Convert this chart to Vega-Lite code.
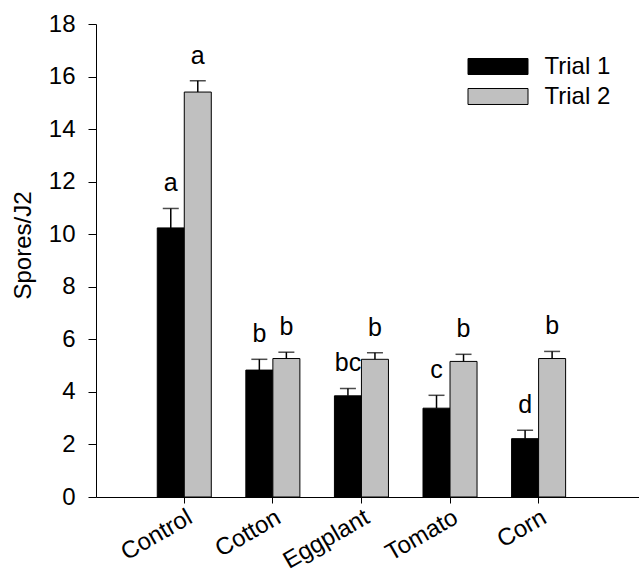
{
  "$schema": "https://vega.github.io/schema/vega-lite/v6.json",
  "width": 543,
  "height": 473,
  "autosize": {"type": "none"},
  "padding": {"left": 96, "top": 24, "right": 0, "bottom": 76},
  "background": "white",
  "data": {
    "values": [
      {"category": "Control", "trial": "Trial 1", "mean": 10.24, "upper": 10.98, "letter": "a"},
      {"category": "Control", "trial": "Trial 2", "mean": 15.41, "upper": 15.84, "letter": "a"},
      {"category": "Cotton", "trial": "Trial 1", "mean": 4.83, "upper": 5.24, "letter": "b"},
      {"category": "Cotton", "trial": "Trial 2", "mean": 5.27, "upper": 5.51, "letter": "b"},
      {"category": "Eggplant", "trial": "Trial 1", "mean": 3.85, "upper": 4.13, "letter": "bc"},
      {"category": "Eggplant", "trial": "Trial 2", "mean": 5.24, "upper": 5.49, "letter": "b"},
      {"category": "Tomato", "trial": "Trial 1", "mean": 3.38, "upper": 3.87, "letter": "c"},
      {"category": "Tomato", "trial": "Trial 2", "mean": 5.16, "upper": 5.43, "letter": "b"},
      {"category": "Corn", "trial": "Trial 1", "mean": 2.22, "upper": 2.54, "letter": "d"},
      {"category": "Corn", "trial": "Trial 2", "mean": 5.27, "upper": 5.54, "letter": "b"}
    ]
  },
  "encoding": {
    "x": {
      "field": "category",
      "type": "nominal",
      "sort": ["Control", "Cotton", "Eggplant", "Tomato", "Corn"],
      "scale": {"paddingInner": 0.39, "paddingOuter": 0.76, "align": 0.455},
      "axis": {
        "title": null,
        "labelAngle": -30,
        "labelFontSize": 24,
        "labelPadding": 2,
        "tickSize": 6,
        "domainColor": "black",
        "tickColor": "black",
        "labelColor": "black"
      }
    },
    "xOffset": {
      "field": "trial",
      "type": "nominal",
      "scale": {"paddingInner": 0, "paddingOuter": 0}
    }
  },
  "layer": [
    {
      "mark": {"type": "bar", "stroke": "black", "strokeWidth": 1},
      "encoding": {
        "y": {
          "field": "mean",
          "type": "quantitative",
          "scale": {"domain": [0, 18], "nice": false},
          "axis": {
            "title": "Spores/J2",
            "titleFontSize": 24,
            "titleFontWeight": "normal",
            "titleColor": "black",
            "titleX": -73,
            "titleY": 221,
            "titleBaseline": "middle",
            "values": [0, 2, 4, 6, 8, 10, 12, 14, 16, 18],
            "grid": false,
            "labelFontSize": 24,
            "labelPadding": 13,
            "tickSize": 8,
            "domainColor": "black",
            "tickColor": "black",
            "labelColor": "black"
          }
        },
        "color": {
          "field": "trial",
          "type": "nominal",
          "scale": {"range": ["black", "#c0c0c0"]},
          "legend": {
            "title": null,
            "orient": "none",
            "legendX": 372,
            "legendY": 27,
            "padding": 0,
            "symbolType": "M-2,-0.533H2V0.533H-2Z",
            "symbolSize": 900,
            "symbolOffset": 14.5,
            "symbolStrokeColor": "black",
            "symbolStrokeWidth": 1,
            "symbolOpacity": 1,
            "labelFontSize": 24,
            "labelColor": "black",
            "labelOffset": 31,
            "rowPadding": 2
          }
        }
      }
    },
    {
      "mark": {"type": "rule", "color": "black", "strokeWidth": 1.5},
      "encoding": {
        "y": {"field": "mean", "type": "quantitative"},
        "y2": {"field": "upper"}
      }
    },
    {
      "mark": {"type": "tick", "color": "black", "size": 16, "thickness": 1.5, "orient": "horizontal"},
      "encoding": {
        "y": {"field": "upper", "type": "quantitative"}
      }
    },
    {
      "mark": {"type": "text", "fontSize": 25, "color": "black", "baseline": "alphabetic", "dy": -17},
      "encoding": {
        "y": {"field": "upper", "type": "quantitative"},
        "text": {"field": "letter"}
      }
    }
  ],
  "config": {
    "view": {"stroke": null},
    "font": "Liberation Sans"
  }
}
